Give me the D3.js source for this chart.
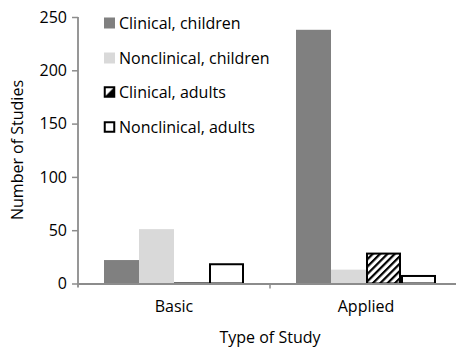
<!DOCTYPE html>
<html><head><meta charset="utf-8">
<script src="https://cdn.jsdelivr.net/npm/d3@7"></script>
<style>body{margin:0;background:#fff}svg{display:block}text{font-family:"Open Sans",sans-serif;fill:#000}</style>
</head><body>
<svg id="c" width="456" height="348"></svg>
<script>
const categories = ["Basic", "Applied"];
const seriesNames = ["Clinical, children", "Nonclinical, children", "Clinical, adults", "Nonclinical, adults"];
const clinicalChildren = [22, 238];
const nonclinicalChildren = [51, 13];
const clinicalAdults = [1, 29];
const nonclinicalAdults = [19, 8];
const yTicks = [0, 50, 100, 150, 200, 250];

const series = [clinicalChildren, nonclinicalChildren, clinicalAdults, nonclinicalAdults];
const styles = [
  {fill: "#808080", stroke: "none", sw: 0},
  {fill: "#d9d9d9", stroke: "none", sw: 0},
  {fill: "url(#hatch)", stroke: "#000", sw: 2},
  {fill: "#fff", stroke: "#000", sw: 2}
];
const axisColor = "#8c8c8c";
const FS = 16;

const svg = d3.select("#c");
const defs = svg.append("defs");
const pat = defs.append("pattern").attr("id", "hatch").attr("patternUnits", "userSpaceOnUse")
  .attr("width", 5.2).attr("height", 5.2).attr("patternTransform", "rotate(45)");
pat.append("rect").attr("width", 5.2).attr("height", 5.2).attr("fill", "#fff");
pat.append("rect").attr("x", 0).attr("y", 0).attr("width", 2.2).attr("height", 5.2).attr("fill", "#000");

const lp = defs.append("pattern").attr("id", "legHatch").attr("patternUnits", "objectBoundingBox")
  .attr("patternContentUnits", "objectBoundingBox").attr("width", 1).attr("height", 1);
lp.append("rect").attr("width", 1).attr("height", 1).attr("fill", "#fff");
lp.append("path").attr("d", "M1,0 L1,1 L0,1 Z").attr("fill", "#000");

const x0 = d3.scaleBand().domain(categories).range([78, 462]).paddingInner(0).paddingOuter(0);
const x1 = d3.scaleBand().domain(d3.range(4)).range([0, 140]);
const y = d3.scaleLinear().domain([0, 250]).range([283.5, 17]);
const groupOffset = (x0.bandwidth() - 140) / 2;

// bars
series.forEach((vals, si) => {
  const st = styles[si];
  svg.append("g").selectAll("rect").data(vals).join("rect")
    .attr("x", (d, i) => x0(categories[i]) + groupOffset + x1(si) + st.sw / 2)
    .attr("y", d => y(d) + st.sw / 2)
    .attr("width", x1.bandwidth() - st.sw)
    .attr("height", d => Math.max(0, y(0) - y(d) - st.sw / 2))
    .attr("fill", st.fill)
    .attr("stroke", st.stroke)
    .attr("stroke-width", st.sw);
});

// y axis
const yAxis = d3.axisLeft(y).tickValues(yTicks).tickSize(6).tickPadding(5).tickSizeOuter(0);
const gy = svg.append("g").attr("transform", "translate(78,0)").call(yAxis);
gy.select(".domain").remove();
gy.append("line").attr("x1", 0).attr("x2", 0).attr("y1", y(250)).attr("y2", y(0) + 4)
  .attr("stroke", axisColor).attr("stroke-width", 1.8);
gy.selectAll(".tick line").attr("stroke", axisColor).attr("stroke-width", 1.5);
gy.selectAll(".tick text").attr("font-size", FS).attr("font-family", "Open Sans").attr("fill", "#000");

// x axis
const xAxis = d3.axisBottom(x0).tickSize(0).tickPadding(17).tickSizeOuter(0);
const gx = svg.append("g").attr("transform", `translate(0,${y(0)})`).call(xAxis);
gx.select(".domain").attr("stroke", axisColor).attr("stroke-width", 1.8);
gx.selectAll(".tick text").attr("font-size", FS).attr("font-family", "Open Sans").attr("fill", "#000");
gx.append("line").attr("x1", x0("Applied")).attr("x2", x0("Applied")).attr("y1", 0).attr("y2", 5)
  .attr("stroke", axisColor).attr("stroke-width", 1.5);

// axis titles
svg.append("text").attr("x", 270).attr("y", 343).attr("text-anchor", "middle").attr("font-size", FS).text("Type of Study");
svg.append("text").attr("transform", "translate(23,150) rotate(-90)").attr("text-anchor", "middle").attr("font-size", FS).text("Number of Studies");

// legend
const legBase = [29, 64, 98, 133];
const lg = svg.append("g");
seriesNames.forEach((name, i) => {
  const st = styles[i];
  const s = i < 2 ? 11 : 9.5;
  const cy = legBase[i] - 6;
  lg.append("rect").attr("x", i < 2 ? 104 : 104.75).attr("y", cy - s / 2)
    .attr("width", s).attr("height", s)
    .attr("fill", i === 2 ? "url(#legHatch)" : st.fill)
    .attr("stroke", st.stroke).attr("stroke-width", st.sw);
  lg.append("text").attr("x", 119).attr("y", legBase[i]).attr("font-size", FS).text(name);
});
</script>
</body></html>
